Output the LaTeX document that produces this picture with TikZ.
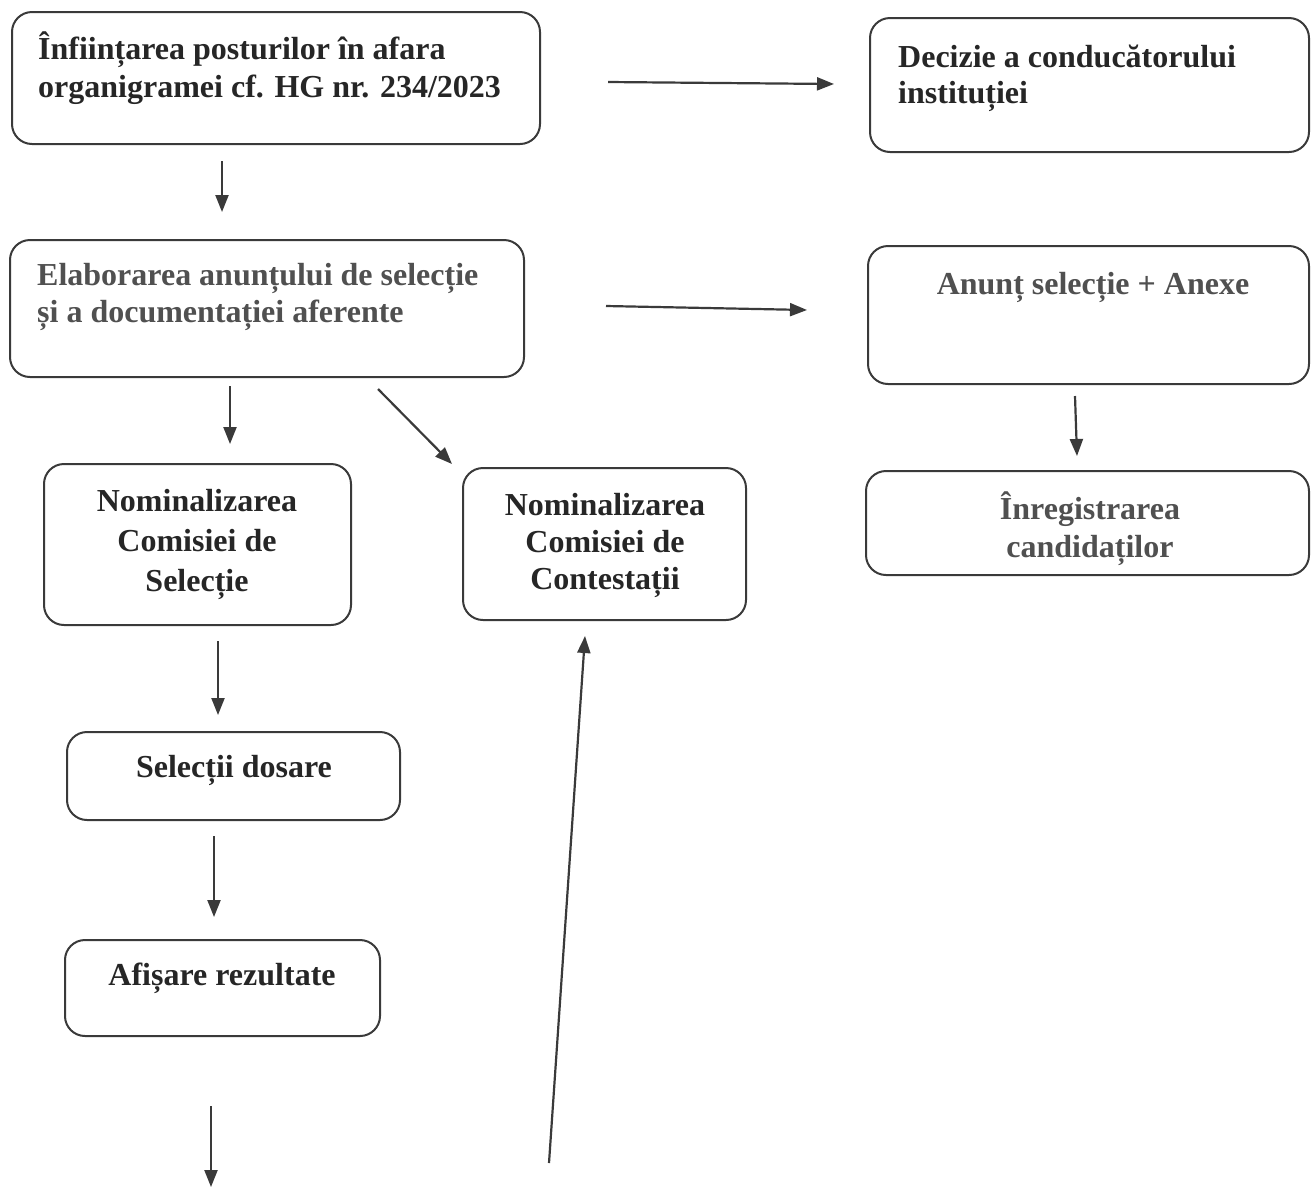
\documentclass[tikz,border=0pt]{standalone}
\usepackage{fontspec}
\setmainfont{Liberation Serif}
\usetikzlibrary{arrows.meta,positioning}
\definecolor{linec}{HTML}{3A3A3A}
\definecolor{darktxt}{HTML}{262626}
\definecolor{greytxt}{HTML}{505050}
\begin{document}
\begin{tikzpicture}[x=1pt,y=-1pt,
  box/.style={draw=linec, line width=2pt, rounded corners=20pt, inner sep=0pt},
  txt/.style={font=\bfseries\fontsize{32}{38}\selectfont, inner sep=0pt, text=darktxt},
  gtxt/.style={txt, text=greytxt},
  arr/.style={-{Triangle[length=17pt,width=13pt]}, line width=2.2pt, draw=linec}]
\useasboundingbox (0,0) rectangle (1311,1187);
% boxes
\node[box, minimum width=528pt, minimum height=132pt] (A) at (276,78) {};
\node[box, minimum width=439pt, minimum height=134pt] (B) at (1089.5,85) {};
\node[box, minimum width=514pt, minimum height=137pt] (C) at (267,308.5) {};
\node[box, minimum width=441pt, minimum height=138pt] (D) at (1088.5,315) {};
\node[box, minimum width=443pt, minimum height=104pt] (E) at (1087.5,523) {};
\node[box, minimum width=307pt, minimum height=161pt] (F) at (197.5,544.5) {};
\node[box, minimum width=283pt, minimum height=152pt] (G) at (604.5,544) {};
\node[box, minimum width=333pt, minimum height=88pt] (H) at (233.5,776) {};
\node[box, minimum width=315pt, minimum height=96pt] (I) at (222.5,988) {};
% texts
\node[txt, anchor=west, align=left] (At) at (38,68) {Înființarea posturilor în afara\\organigramei cf. HG nr. 234/2023};
\node[txt, anchor=west, align=left, font=\bfseries\fontsize{32}{36}\selectfont] (Bt) at (898,78) {Decizie a conducătorului\\instituției};
\node[gtxt, anchor=west, align=left, font=\bfseries\fontsize{32}{37}\selectfont] (Ct) at (37,297) {Elaborarea anunțului de selecție\\și a documentației aferente};
\node[gtxt, align=center] (Dt) at (1093,287) {Anunț selecție + Anexe};
\node[gtxt, align=center] (Et) at (1090,529) {Înregistrarea\\candidaților};
\node[txt, align=center, font=\bfseries\fontsize{32}{40}\selectfont] (Ft) at (197,544) {Nominalizarea\\Comisiei de\\Selecție};
\node[txt, align=center, font=\bfseries\fontsize{32}{37}\selectfont] (Gt) at (605,545) {Nominalizarea\\Comisiei de\\Contestații};
\node[txt, align=center] (Ht) at (234,770) {Selecții dosare};
\node[txt, align=center] (It) at (222,978) {Afișare rezultate};
% free ends
\coordinate (outI) at (211,1187);
\coordinate (inG) at (549,1163);
% arrows
\draw[arr] ([shift={(67,4)}]A.east) -- ([shift={(-35,-1)}]B.west);
\draw[arr] ([shift={(-54,16)}]A.south) -- ([shift={(-45,-27)}]C.north);
\draw[arr] ([shift={(81,-2.5)}]C.east) -- ([shift={(-60,-5)}]D.west);
\draw[arr] ([shift={(-37,8)}]C.south) -- ([shift={(32.5,-19)}]F.north);
\draw[arr] ([shift={(111,11)}]C.south) -- ([shift={(-10,-3)}]G.north west);
\draw[arr] ([shift={(-13.5,11)}]D.south) -- ([shift={(-10.5,-14)}]E.north);
\draw[arr] ([shift={(20.5,15)}]F.south) -- ([shift={(-15.5,-16)}]H.north);
\draw[arr] ([shift={(-19.5,15)}]H.south) -- ([shift={(-8.5,-22)}]I.north);
\draw[arr] ([shift={(-11.5,69)}]I.south) -- (outI);
\draw[arr] (inG) -- ([shift={(-19.5,15)}]G.south);
\end{tikzpicture}
\end{document}
